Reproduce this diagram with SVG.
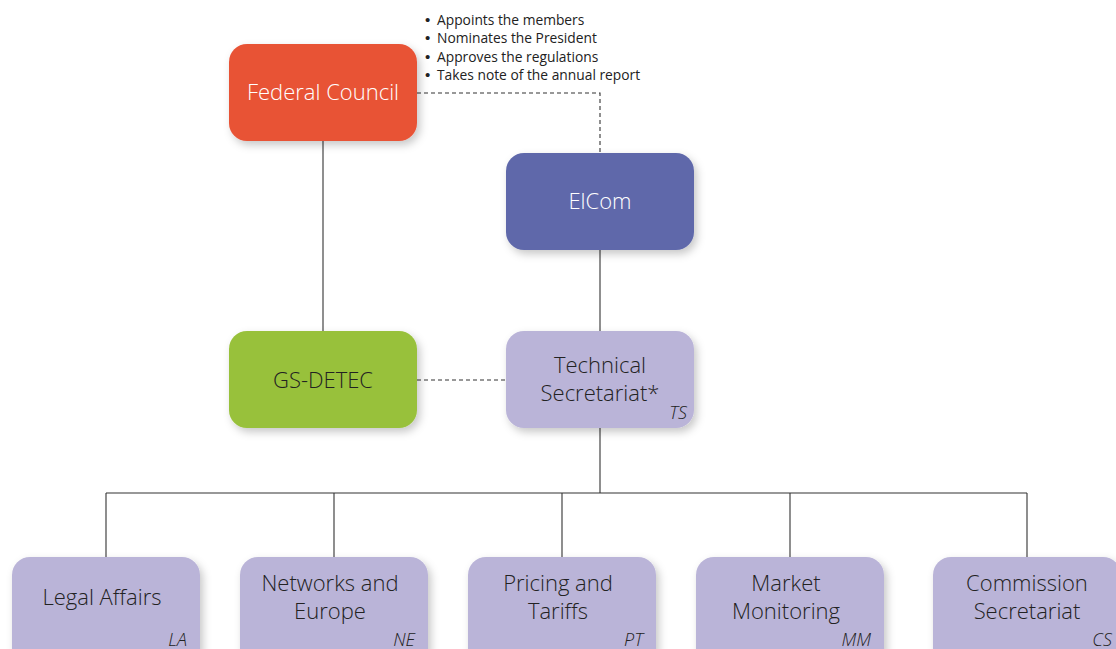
<svg xmlns="http://www.w3.org/2000/svg" width="1116" height="649" viewBox="0 0 1116 649">
<defs>
<filter id="sh" x="-20%" y="-20%" width="140%" height="150%">
<feDropShadow dx="3" dy="4" stdDeviation="4" flood-color="#000" flood-opacity="0.22"/>
</filter>
</defs>
<style>
.box{filter:url(#sh)}
.t{font-family:"Open Sans","Liberation Sans",sans-serif;font-size:22px;font-weight:300;text-anchor:middle;fill:#222}
.w{fill:#fff}
.ab{font-family:"Open Sans","Liberation Sans",sans-serif;font-size:18px;font-weight:300;font-style:italic;text-anchor:end;fill:#222}
.note{font-family:"Open Sans","Liberation Sans",sans-serif;font-size:13.8px;fill:#222}
.bul{font-family:"Liberation Sans",sans-serif;font-size:15px}
.ln{stroke:#333;stroke-width:1.1;fill:none}
.dash{stroke:#333;stroke-width:1.1;fill:none;stroke-dasharray:4 3}
.purple{fill:#BAB4D8}
</style>
<rect width="1116" height="649" fill="#fff"/>
<g id="connectors">
<path class="ln" d="M323 141V331"/>
<path class="ln" d="M600 250V331"/>
<path class="dash" d="M417 93H600V153"/>
<path class="dash" d="M417 380H506"/>
<path class="ln" d="M600 428V493M106 493H1027M106 493V557M334 493V557M562 493V557M790 493V557M1027 493V557"/>
</g>
<g id="notes">
<text class="note" x="425" y="25"><tspan class="bul">•</tspan><tspan x="437">Appoints the members</tspan></text>
<text class="note" x="425" y="43"><tspan class="bul">•</tspan><tspan x="437">Nominates the President</tspan></text>
<text class="note" x="425" y="62"><tspan class="bul">•</tspan><tspan x="437">Approves the regulations</tspan></text>
<text class="note" x="425" y="80"><tspan class="bul">•</tspan><tspan x="437">Takes note of the annual report</tspan></text>
</g>
<g id="federal-council">
<rect class="box" x="229" y="44" width="188" height="97" rx="18" fill="#E85236"/>
<text class="t w" x="323" y="100">Federal Council</text>
</g>
<g id="elcom">
<rect class="box" x="506" y="153" width="188" height="97" rx="18" fill="#5F68AA"/>
<text class="t w" x="600" y="209">ElCom</text>
</g>
<g id="gs-detec">
<rect class="box" x="229" y="331" width="188" height="97" rx="18" fill="#98C13B"/>
<text class="t" x="323" y="388">GS-DETEC</text>
</g>
<g id="technical-secretariat">
<rect class="box purple" x="506" y="331" width="188" height="97" rx="18"/>
<text class="t" x="600" y="373">Technical</text>
<text class="t" x="600" y="401">Secretariat*</text>
<text class="ab" x="687" y="419">TS</text>
</g>
<g id="legal-affairs">
<rect class="box purple" x="12" y="557" width="188" height="110" rx="18"/>
<text class="t" x="102" y="605">Legal Affairs</text>
<text class="ab" x="187" y="646">LA</text>
</g>
<g id="networks-europe">
<rect class="box purple" x="240" y="557" width="188" height="110" rx="18"/>
<text class="t" x="330" y="591">Networks and</text>
<text class="t" x="330" y="619">Europe</text>
<text class="ab" x="415" y="646">NE</text>
</g>
<g id="pricing-tariffs">
<rect class="box purple" x="468" y="557" width="188" height="110" rx="18"/>
<text class="t" x="558" y="591">Pricing and</text>
<text class="t" x="558" y="619">Tariffs</text>
<text class="ab" x="643" y="646">PT</text>
</g>
<g id="market-monitoring">
<rect class="box purple" x="696" y="557" width="188" height="110" rx="18"/>
<text class="t" x="786" y="591">Market</text>
<text class="t" x="786" y="619">Monitoring</text>
<text class="ab" x="871" y="646">MM</text>
</g>
<g id="commission-secretariat">
<rect class="box purple" x="933" y="557" width="188" height="110" rx="18"/>
<text class="t" x="1027" y="591">Commission</text>
<text class="t" x="1027" y="619">Secretariat</text>
<text class="ab" x="1112" y="646">CS</text>
</g>
</svg>
